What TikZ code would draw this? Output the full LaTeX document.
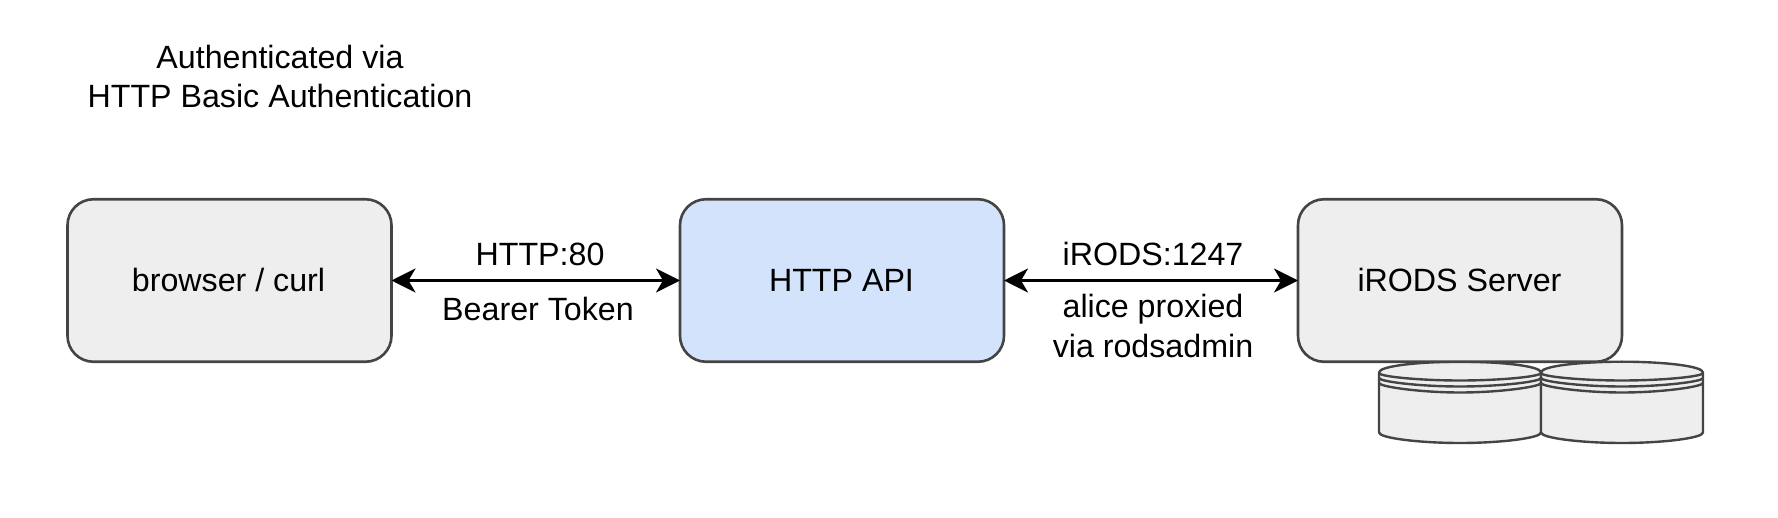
\documentclass[tikz,border=0pt]{standalone}
\usepackage{fontspec}
\setmainfont{Liberation Sans}
\usetikzlibrary{arrows.meta}
\definecolor{boxline}{HTML}{444444}
\definecolor{greyfill}{HTML}{EEEEEE}
\definecolor{bluefill}{HTML}{D2E3FB}
\tikzset{
  every node/.style={font=\fontsize{32.2}{39}\selectfont, text=black},
  roundbox/.style={draw=boxline, line width=2.6pt, rounded corners=26pt, minimum width=324pt, minimum height=162.5pt, outer sep=0pt, inner sep=0pt},
  grey/.style={fill=greyfill},
  blue/.style={fill=bluefill},
  link/.style={line width=2.8pt, black, {Stealth[length=24pt,width=24pt,inset=7pt]}-{Stealth[length=24pt,width=24pt,inset=7pt]}},
  label/.style={anchor=base, inner sep=0pt, align=center},
  disk/.style={draw=boxline, line width=2.4pt, fill=greyfill, line join=round},
  ring/.style={draw=boxline, line width=2.4pt},
}
\newcommand{\ringcurve}[2]{%
  \path[ring] (0,#1) .. controls (0,#1-3.5) and (40,#2) .. (81,#2) .. controls (122,#2) and (162,#1-3.5) .. (162,#1);}
\newcommand{\datastore}[1]{%
  \begin{scope}[xshift=#1pt]
    \path[disk] (0,-372.5) .. controls (0,-366) and (40,-361.7) .. (81,-361.7) .. controls (122,-361.7) and (162,-366) .. (162,-372.5)
      -- (162,-432.5) .. controls (162,-438) and (122,-443) .. (81,-443) .. controls (40,-443) and (0,-438) .. (0,-432.5) -- cycle;
    \ringcurve{-373}{-380.5}
    \ringcurve{-378}{-386.5}
    \ringcurve{-383}{-392.5}
  \end{scope}}
\begin{document}
\begin{tikzpicture}[x=1pt,y=1pt]
\useasboundingbox (0,0) rectangle (1778,-518);
\datastore{1379}
\datastore{1541}
\node[roundbox,grey] (browser) at (229.5,-280.5) {\strut};
\node[roundbox,blue] (api) at (842,-280.5) {\strut};
\node[roundbox,grey] (server) at (1460,-280.5) {\strut};
\node[label] (browserText) at (228.5,-292) {browser / curl};
\node[label] (apiText) at (841.5,-292) {HTTP API};
\node[label] (serverText) at (1459.5,-292) {iRODS Server};
\draw[link] (browser) -- (api);
\draw[link] (api) -- (server);
\node[label] (title1) at (280,-69) {Authenticated via};
\node[label] (title2) at (280,-108) {HTTP Basic Authentication};
\node[label] (http) at (540,-265.5) {HTTP:80};
\node[label] (bearer) at (538,-321) {Bearer Token};
\node[label] (irods) at (1153,-265.5) {iRODS:1247};
\node[label] (alice) at (1153,-317.5) {alice proxied};
\node[label] (via) at (1153,-357.5) {via rodsadmin};
\end{tikzpicture}
\end{document}
